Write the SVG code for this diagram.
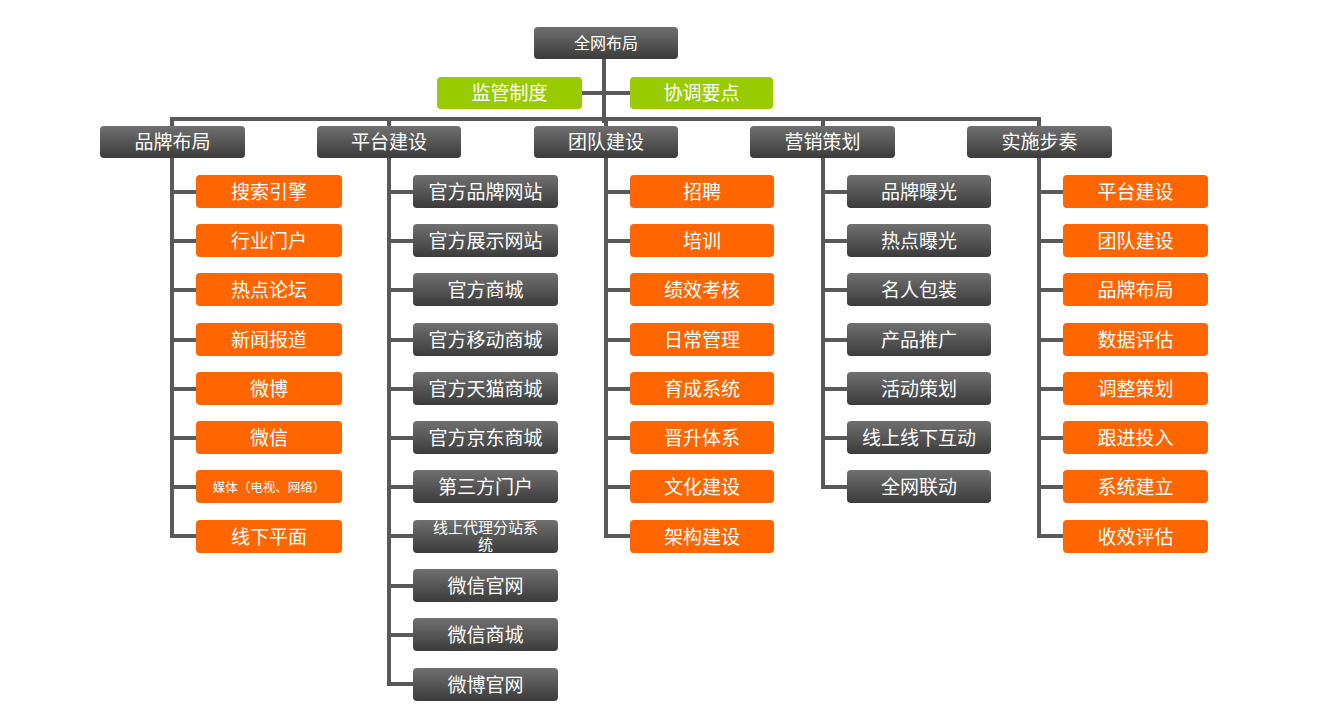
<svg xmlns="http://www.w3.org/2000/svg" width="1338" height="720" viewBox="0 0 1338 720">
<defs>
<linearGradient id="gray" x1="0" y1="0" x2="0" y2="1">
<stop offset="0" stop-color="#707070"/>
<stop offset="1" stop-color="#3b3b3b"/>
</linearGradient>
</defs>
<style>
.g{fill:url(#gray)}
.o{fill:#ff6600}
.gr{fill:#99cc00}
text{font-family:"Noto Sans CJK SC","Liberation Sans",sans-serif;fill:#ffffff;text-anchor:middle}
.t19{font-size:19px}
.t16{font-size:16px}
.t15{font-size:15px}
.t13{font-size:12.5px}
.c{stroke:#595959;stroke-width:4;fill:none}
</style>
<rect width="1338" height="720" fill="#ffffff"/>
<g id="connectors" class="c">
<path d="M604 59V123M582 93H630M170 119H1041"/>
<path d="M172 117V536H196M172 192H196M172 241H196M172 290H196M172 340H196M172 389H196M172 438H196M172 487H196"/>
<path d="M389 117V684H413M389 192H413M389 241H413M389 290H413M389 340H413M389 389H413M389 438H413M389 487H413M389 536H413M389 586H413M389 635H413"/>
<path d="M606 119V536H630M606 192H630M606 241H630M606 290H630M606 340H630M606 389H630M606 438H630M606 487H630"/>
<path d="M823 117V487H847M823 192H847M823 241H847M823 290H847M823 340H847M823 389H847M823 438H847"/>
<path d="M1039 117V536H1063M1039 192H1063M1039 241H1063M1039 290H1063M1039 340H1063M1039 389H1063M1039 438H1063M1039 487H1063"/>
</g>
<g id="root"><rect class="g" x="534" y="27" width="144" height="32" rx="4"/><text class="t16" x="606" y="49">全网布局</text></g>
<g id="jg"><rect class="gr" x="437" y="77" width="145" height="32" rx="4"/><text class="t19" x="509.5" y="100">监管制度</text></g>
<g id="xt"><rect class="gr" x="630" y="77" width="143" height="32" rx="4"/><text class="t19" x="701.5" y="100">协调要点</text></g>
<g id="l1a"><rect class="g" x="100" y="126" width="145" height="32" rx="4"/><text class="t19" x="172.5" y="149">品牌布局</text></g>
<g id="l1b"><rect class="g" x="317" y="126" width="144" height="32" rx="4"/><text class="t19" x="389" y="149">平台建设</text></g>
<g id="l1c"><rect class="g" x="534" y="126" width="144" height="32" rx="4"/><text class="t19" x="606" y="149">团队建设</text></g>
<g id="l1d"><rect class="g" x="750" y="126" width="145" height="32" rx="4"/><text class="t19" x="822.5" y="149">营销策划</text></g>
<g id="l1e"><rect class="g" x="967" y="126" width="145" height="32" rx="4"/><text class="t19" x="1039.5" y="149">实施步奏</text></g>

<g id="a1"><rect class="o" x="196" y="175" width="146" height="33" rx="4"/><text class="t19" x="269" y="198.5">搜索引擎</text></g>
<g id="a2"><rect class="o" x="196" y="224" width="146" height="33" rx="4"/><text class="t19" x="269" y="247.5">行业门户</text></g>
<g id="a3"><rect class="o" x="196" y="273" width="146" height="33" rx="4"/><text class="t19" x="269" y="296.5">热点论坛</text></g>
<g id="a4"><rect class="o" x="196" y="323" width="146" height="33" rx="4"/><text class="t19" x="269" y="346.5">新闻报道</text></g>
<g id="a5"><rect class="o" x="196" y="372" width="146" height="33" rx="4"/><text class="t19" x="269" y="395.5">微博</text></g>
<g id="a6"><rect class="o" x="196" y="421" width="146" height="33" rx="4"/><text class="t19" x="269" y="444.5">微信</text></g>
<g id="a7"><rect class="o" x="196" y="470" width="146" height="33" rx="4"/><text class="t13" x="269" y="492">媒体（电视、网络）</text></g>
<g id="a8"><rect class="o" x="196" y="520" width="146" height="33" rx="4"/><text class="t19" x="269" y="543.5">线下平面</text></g>

<g id="b1"><rect class="g" x="413" y="175" width="145" height="33" rx="4"/><text class="t19" x="485.5" y="198.5">官方品牌网站</text></g>
<g id="b2"><rect class="g" x="413" y="224" width="145" height="33" rx="4"/><text class="t19" x="485.5" y="247.5">官方展示网站</text></g>
<g id="b3"><rect class="g" x="413" y="273" width="145" height="33" rx="4"/><text class="t19" x="485.5" y="296.5">官方商城</text></g>
<g id="b4"><rect class="g" x="413" y="323" width="145" height="33" rx="4"/><text class="t19" x="485.5" y="346.5">官方移动商城</text></g>
<g id="b5"><rect class="g" x="413" y="372" width="145" height="33" rx="4"/><text class="t19" x="485.5" y="395.5">官方天猫商城</text></g>
<g id="b6"><rect class="g" x="413" y="421" width="145" height="33" rx="4"/><text class="t19" x="485.5" y="444.5">官方京东商城</text></g>
<g id="b7"><rect class="g" x="413" y="470" width="145" height="33" rx="4"/><text class="t19" x="485.5" y="493.5">第三方门户</text></g>
<g id="b8"><rect class="g" x="413" y="520" width="145" height="33" rx="4"/><text class="t15" x="485.5" y="533"><tspan x="485.5" y="533">线上代理分站系</tspan><tspan x="485.5" y="550">统</tspan></text></g>
<g id="b9"><rect class="g" x="413" y="569" width="145" height="33" rx="4"/><text class="t19" x="485.5" y="592.5">微信官网</text></g>
<g id="b10"><rect class="g" x="413" y="618" width="145" height="33" rx="4"/><text class="t19" x="485.5" y="641.5">微信商城</text></g>
<g id="b11"><rect class="g" x="413" y="668" width="145" height="33" rx="4"/><text class="t19" x="485.5" y="691.5">微博官网</text></g>

<g id="c1"><rect class="o" x="630" y="175" width="144" height="33" rx="4"/><text class="t19" x="702" y="198.5">招聘</text></g>
<g id="c2"><rect class="o" x="630" y="224" width="144" height="33" rx="4"/><text class="t19" x="702" y="247.5">培训</text></g>
<g id="c3"><rect class="o" x="630" y="273" width="144" height="33" rx="4"/><text class="t19" x="702" y="296.5">绩效考核</text></g>
<g id="c4"><rect class="o" x="630" y="323" width="144" height="33" rx="4"/><text class="t19" x="702" y="346.5">日常管理</text></g>
<g id="c5"><rect class="o" x="630" y="372" width="144" height="33" rx="4"/><text class="t19" x="702" y="395.5">育成系统</text></g>
<g id="c6"><rect class="o" x="630" y="421" width="144" height="33" rx="4"/><text class="t19" x="702" y="444.5">晋升体系</text></g>
<g id="c7"><rect class="o" x="630" y="470" width="144" height="33" rx="4"/><text class="t19" x="702" y="493.5">文化建设</text></g>
<g id="c8"><rect class="o" x="630" y="520" width="144" height="33" rx="4"/><text class="t19" x="702" y="543.5">架构建设</text></g>

<g id="d1"><rect class="g" x="847" y="175" width="144" height="33" rx="4"/><text class="t19" x="919" y="198.5">品牌曝光</text></g>
<g id="d2"><rect class="g" x="847" y="224" width="144" height="33" rx="4"/><text class="t19" x="919" y="247.5">热点曝光</text></g>
<g id="d3"><rect class="g" x="847" y="273" width="144" height="33" rx="4"/><text class="t19" x="919" y="296.5">名人包装</text></g>
<g id="d4"><rect class="g" x="847" y="323" width="144" height="33" rx="4"/><text class="t19" x="919" y="346.5">产品推广</text></g>
<g id="d5"><rect class="g" x="847" y="372" width="144" height="33" rx="4"/><text class="t19" x="919" y="395.5">活动策划</text></g>
<g id="d6"><rect class="g" x="847" y="421" width="144" height="33" rx="4"/><text class="t19" x="919" y="444.5">线上线下互动</text></g>
<g id="d7"><rect class="g" x="847" y="470" width="144" height="33" rx="4"/><text class="t19" x="919" y="493.5">全网联动</text></g>

<g id="e1"><rect class="o" x="1063" y="175" width="145" height="33" rx="4"/><text class="t19" x="1135.5" y="198.5">平台建设</text></g>
<g id="e2"><rect class="o" x="1063" y="224" width="145" height="33" rx="4"/><text class="t19" x="1135.5" y="247.5">团队建设</text></g>
<g id="e3"><rect class="o" x="1063" y="273" width="145" height="33" rx="4"/><text class="t19" x="1135.5" y="296.5">品牌布局</text></g>
<g id="e4"><rect class="o" x="1063" y="323" width="145" height="33" rx="4"/><text class="t19" x="1135.5" y="346.5">数据评估</text></g>
<g id="e5"><rect class="o" x="1063" y="372" width="145" height="33" rx="4"/><text class="t19" x="1135.5" y="395.5">调整策划</text></g>
<g id="e6"><rect class="o" x="1063" y="421" width="145" height="33" rx="4"/><text class="t19" x="1135.5" y="444.5">跟进投入</text></g>
<g id="e7"><rect class="o" x="1063" y="470" width="145" height="33" rx="4"/><text class="t19" x="1135.5" y="493.5">系统建立</text></g>
<g id="e8"><rect class="o" x="1063" y="520" width="145" height="33" rx="4"/><text class="t19" x="1135.5" y="543.5">收效评估</text></g>
</svg>
